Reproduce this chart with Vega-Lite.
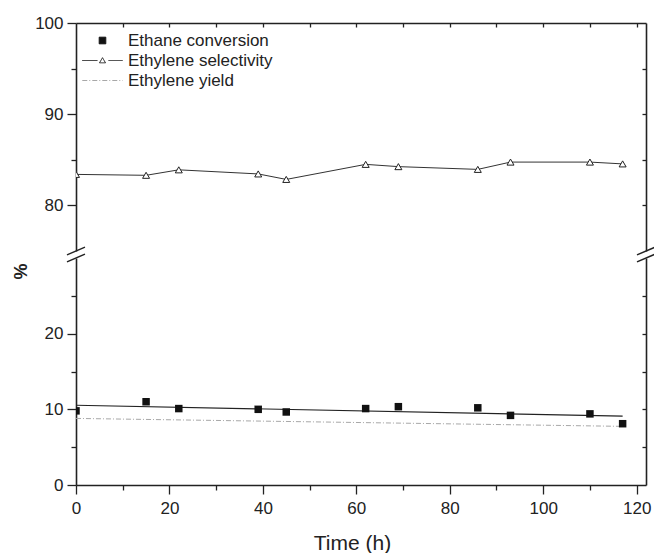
{
  "$schema": "https://vega.github.io/schema/vega-lite/v6.json",
  "padding": {"left": 12, "top": 14, "right": 5, "bottom": 0},
  "bounds": "flush",
  "spacing": 7,
  "config": {
    "view": {"stroke": null},
    "font": "Liberation Sans",
    "axis": {
      "grid": false,
      "labelFlush": false,
      "domainColor": "#222",
      "domainWidth": 1.6,
      "tickColor": "#222",
      "tickWidth": 1.3,
      "labelFont": "Liberation Sans",
      "labelFontSize": 17,
      "labelColor": "#222",
      "titleFont": "Liberation Sans",
      "titleColor": "#222"
    },
    "legend": {
      "orient": "none",
      "legendX": 18,
      "legendY": 9,
      "padding": 0,
      "labelFont": "Liberation Sans",
      "labelFontSize": 17,
      "labelColor": "#222",
      "symbolSize": 44,
      "symbolStrokeWidth": 1,
      "symbolOpacity": 1,
      "rowPadding": 2,
      "labelOffset": 17
    }
  },
  "datasets": {
    "conversion": [
      {"t": 0, "value": 9.8},
      {"t": 15, "value": 11.0},
      {"t": 22, "value": 10.1},
      {"t": 39, "value": 10.0},
      {"t": 45, "value": 9.65},
      {"t": 62, "value": 10.1},
      {"t": 69, "value": 10.35},
      {"t": 86, "value": 10.2},
      {"t": 93, "value": 9.2},
      {"t": 110, "value": 9.4},
      {"t": 117, "value": 8.1}
    ],
    "selectivity": [
      {"t": 0, "value": 83.4},
      {"t": 15, "value": 83.3},
      {"t": 22, "value": 83.9},
      {"t": 39, "value": 83.45},
      {"t": 45, "value": 82.85},
      {"t": 62, "value": 84.5},
      {"t": 69, "value": 84.25},
      {"t": 86, "value": 83.95},
      {"t": 93, "value": 84.75},
      {"t": 110, "value": 84.75},
      {"t": 117, "value": 84.55}
    ],
    "yield": [
      {"t": 0, "value": 8.8},
      {"t": 117, "value": 7.75}
    ],
    "series": [
      {"series": "Ethane conversion"},
      {"series": "Ethylene selectivity"},
      {"series": "Ethylene yield"}
    ]
  },
  "vconcat": [
    {
      "width": 570,
      "height": 228,
      "data": {"name": "selectivity"},
      "layer": [
        {
          "mark": {"type": "line", "color": "#333", "strokeWidth": 1, "clip": true},
          "encoding": {
            "x": {
              "field": "t", "type": "quantitative",
              "scale": {"domain": [0, 122], "nice": false},
              "axis": {"orient": "top", "values": [10, 20, 30, 40, 50, 60, 70, 80, 90, 100, 110, 120], "labels": false, "tickSize": -4, "title": null}
            },
            "y": {
              "field": "value", "type": "quantitative",
              "scale": {"domain": [75, 100], "nice": false, "zero": false},
              "axis": {
                "orient": "left",
                "values": [80, 85, 90, 95, 100],
                "labelExpr": "datum.value % 10 === 0 ? datum.label : ''",
                "tickSize": {"condition": {"test": "datum.value % 10 === 0", "value": 9}, "value": 5},
                "labelPadding": 4,
                "title": "%",
                "titleAngle": -90,
                "titleFontSize": 18,
                "titleFontWeight": "bold",
                "titleAlign": "center",
                "titleBaseline": "middle",
                "titleX": -55,
                "titleY": 248
              }
            }
          }
        },
        {
          "mark": {"type": "point", "shape": "triangle-up", "filled": true, "fill": "white", "stroke": "#222", "strokeWidth": 1, "size": 49, "opacity": 1, "clip": true},
          "encoding": {
            "x": {"field": "t", "type": "quantitative", "axis": null},
            "y": {
              "field": "value", "type": "quantitative",
              "axis": {"orient": "right", "values": [80, 85, 90, 95], "labels": false, "tickSize": -4, "title": null}
            }
          }
        },
        {
          "data": {"name": "series"},
          "transform": [{"filter": "datum.series == null"}],
          "mark": {"type": "point", "filled": true, "size": 44, "strokeWidth": 1},
          "encoding": {
            "shape": {
              "field": "series", "type": "nominal", "title": null,
              "scale": {
                "domain": ["Ethane conversion", "Ethylene selectivity", "Ethylene yield"],
                "range": ["M-1,-1H1V1H-1Z", "M-6.1,0H-1.5M1.8,0H6.1M0,-0.85L0.9,0.7H-0.9Z", "M-6.1,0H6.1"]
              }
            },
            "fill": {
              "field": "series", "type": "nominal", "title": null,
              "scale": {
                "domain": ["Ethane conversion", "Ethylene selectivity", "Ethylene yield"],
                "range": ["#111111", "#ffffff", "transparent"]
              }
            },
            "stroke": {
              "field": "series", "type": "nominal", "title": null,
              "scale": {
                "domain": ["Ethane conversion", "Ethylene selectivity", "Ethylene yield"],
                "range": ["#111111", "#222222", "#a8a8a8"]
              }
            },
            "strokeDash": {
              "field": "series", "type": "nominal", "title": null,
              "scale": {
                "domain": ["Ethane conversion", "Ethylene selectivity", "Ethylene yield"],
                "range": [[1, 0], [1, 0], [5, 2, 1, 2]]
              }
            }
          }
        },
        {
          "data": {"values": [{}]},
          "mark": {"type": "point", "shape": "M-1,0.43L1,-0.43", "size": 324, "filled": false, "stroke": "#222", "strokeWidth": 1.5, "opacity": 1, "clip": false},
          "encoding": {
            "x": {"datum": 0, "type": "quantitative", "axis": null},
            "y": {"datum": 75, "type": "quantitative", "axis": null}
          }
        },
        {
          "data": {"values": [{}]},
          "mark": {"type": "point", "shape": "M-1,0.43L1,-0.43", "size": 324, "filled": false, "stroke": "#222", "strokeWidth": 1.5, "opacity": 1, "clip": false},
          "encoding": {
            "x": {"datum": 122, "type": "quantitative", "axis": null},
            "y": {"datum": 75, "type": "quantitative", "axis": null}
          }
        }
      ],
      "resolve": {"axis": {"x": "independent", "y": "independent"}}
    },
    {
      "width": 570,
      "height": 227,
      "layer": [
        {
          "data": {"name": "conversion"},
          "transform": [{"regression": "value", "on": "t"}],
          "mark": {"type": "line", "color": "#222", "strokeWidth": 1.2},
          "encoding": {
            "x": {
              "field": "t", "type": "quantitative",
              "scale": {"domain": [0, 122], "nice": false},
              "axis": {
                "orient": "bottom",
                "values": [0, 10, 20, 30, 40, 50, 60, 70, 80, 90, 100, 110, 120],
                "labelExpr": "datum.value % 20 === 0 ? datum.label : ''",
                "tickSize": {"condition": {"test": "datum.value % 20 === 0", "value": 9}, "value": 5},
                "labelPadding": 6,
                "title": "Time (h)",
                "titleFontSize": 21,
                "titleFontWeight": "normal",
                "titleAlign": "center",
                "titleBaseline": "alphabetic",
                "titleX": 276,
                "titleY": 64
              }
            },
            "y": {
              "field": "value", "type": "quantitative",
              "scale": {"domain": [0, 30], "nice": false},
              "axis": {
                "orient": "left",
                "values": [0, 5, 10, 15, 20, 25],
                "labelExpr": "datum.value % 10 === 0 ? datum.label : ''",
                "tickSize": {"condition": {"test": "datum.value % 10 === 0", "value": 9}, "value": 5},
                "labelPadding": 4,
                "title": null
              }
            }
          }
        },
        {
          "data": {"name": "yield"},
          "mark": {"type": "line", "color": "#a8a8a8", "strokeWidth": 1, "strokeDash": [5, 2, 1, 2]},
          "encoding": {
            "x": {"field": "t", "type": "quantitative", "axis": null},
            "y": {
              "field": "value", "type": "quantitative",
              "axis": {"orient": "right", "values": [5, 10, 15, 20, 25], "labels": false, "tickSize": -4, "title": null}
            }
          }
        },
        {
          "data": {"name": "conversion"},
          "mark": {"type": "square", "size": 56, "color": "#111", "filled": true, "opacity": 1, "clip": true},
          "encoding": {
            "x": {"field": "t", "type": "quantitative", "axis": null},
            "y": {"field": "value", "type": "quantitative", "axis": null}
          }
        },
        {
          "data": {"values": [{}]},
          "mark": {"type": "point", "shape": "M-1,0.43L1,-0.43", "size": 324, "filled": false, "stroke": "#222", "strokeWidth": 1.5, "opacity": 1, "clip": false},
          "encoding": {
            "x": {"datum": 0, "type": "quantitative", "axis": null},
            "y": {"datum": 30, "type": "quantitative", "axis": null}
          }
        },
        {
          "data": {"values": [{}]},
          "mark": {"type": "point", "shape": "M-1,0.43L1,-0.43", "size": 324, "filled": false, "stroke": "#222", "strokeWidth": 1.5, "opacity": 1, "clip": false},
          "encoding": {
            "x": {"datum": 122, "type": "quantitative", "axis": null},
            "y": {"datum": 30, "type": "quantitative", "axis": null}
          }
        }
      ],
      "resolve": {"axis": {"x": "independent", "y": "independent"}}
    }
  ]
}
